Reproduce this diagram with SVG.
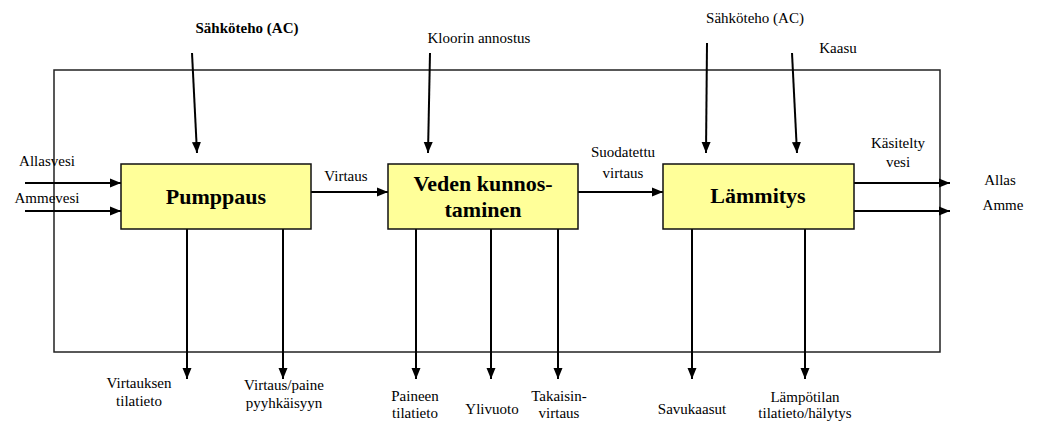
<svg xmlns="http://www.w3.org/2000/svg" width="1040" height="425" viewBox="0 0 1040 425">
  <style>
    .lbl { font-size: 15px; }
    .b { font-weight: bold; }
    .title { font-size: 22px; font-weight: bold; }
    .box { fill: #FFFF99; stroke: #111; stroke-width: 1.5; }
    .frame { fill: none; stroke: #222; stroke-width: 1.5; }
    .arr { stroke: #000; stroke-width: 2; fill: none; marker-end: url(#ah); }
  </style>
  <defs>
    <marker id="ah" markerUnits="userSpaceOnUse" markerWidth="12" markerHeight="12" viewBox="0 0 12 12" refX="11" refY="6" orient="auto">
      <path d="M0,1.5 L11,6 L0,10.5 Z" fill="#000"/>
    </marker>
  </defs>

  <rect width="1040" height="425" fill="#fff"/>

  <!-- system boundary -->
  <rect class="frame" x="54" y="70" width="886" height="282"/>

  <g id="connectors">
    <!-- controls from above -->
    <line class="arr" x1="192" y1="53" x2="197" y2="153"/>
    <line class="arr" x1="430" y1="53" x2="428" y2="153"/>
    <line class="arr" x1="707" y1="43" x2="706" y2="153"/>
    <line class="arr" x1="792" y1="53" x2="797" y2="153"/>
    <!-- inputs -->
    <line class="arr" x1="25" y1="183" x2="121" y2="183"/>
    <line class="arr" x1="25" y1="211" x2="121" y2="211"/>
    <!-- flows between stages -->
    <line class="arr" x1="311" y1="192" x2="388" y2="192"/>
    <line class="arr" x1="578" y1="192" x2="663" y2="192"/>
    <!-- outputs -->
    <line class="arr" x1="854" y1="183" x2="950" y2="183"/>
    <line class="arr" x1="854" y1="211" x2="950" y2="211"/>
    <!-- downward outputs -->
    <line class="arr" x1="187" y1="229" x2="187" y2="379"/>
    <line class="arr" x1="283" y1="229" x2="283" y2="379"/>
    <line class="arr" x1="416" y1="229" x2="416" y2="379"/>
    <line class="arr" x1="491" y1="229" x2="491" y2="379"/>
    <line class="arr" x1="558" y1="229" x2="558" y2="379"/>
    <line class="arr" x1="692" y1="229" x2="692" y2="379"/>
    <line class="arr" x1="805" y1="229" x2="805" y2="379"/>
  </g>

  <g font-family="Liberation Serif, DejaVu Serif, serif" fill="#000" text-anchor="middle">
    <g id="pumppaus">
      <rect class="box" x="121" y="164" width="190" height="65"/>
      <text class="title" x="216" y="204">Pumppaus</text>
    </g>

    <g id="veden-kunnostaminen">
      <rect class="box" x="388" y="164" width="190" height="65"/>
      <text class="title" x="483" y="191">Veden kunnos-</text>
      <text class="title" x="483" y="217">taminen</text>
    </g>

    <g id="lammitys">
      <rect class="box" x="663" y="164" width="191" height="65"/>
      <text class="title" x="758" y="203">Lämmitys</text>
    </g>

    <g id="labels">
      <text class="lbl b" x="247" y="33">Sähköteho (AC)</text>
      <text class="lbl" x="479" y="43">Kloorin annostus</text>
      <text class="lbl" x="755" y="23">Sähköteho (AC)</text>
      <text class="lbl" x="838" y="53">Kaasu</text>

      <text class="lbl" x="47" y="166">Allasvesi</text>
      <text class="lbl" x="47" y="203">Ammevesi</text>

      <text class="lbl" x="346" y="181">Virtaus</text>
      <text class="lbl" x="623" y="157">Suodatettu</text>
      <text class="lbl" x="623" y="178">virtaus</text>

      <text class="lbl" x="898" y="148">Käsitelty</text>
      <text class="lbl" x="898" y="167">vesi</text>
      <text class="lbl" x="1000" y="185">Allas</text>
      <text class="lbl" x="1003" y="210">Amme</text>

      <text class="lbl" x="139" y="388">Virtauksen</text>
      <text class="lbl" x="139" y="406">tilatieto</text>
      <text class="lbl" x="284" y="390">Virtaus/paine</text>
      <text class="lbl" x="284" y="408">pyyhkäisyyn</text>

      <text class="lbl" x="415" y="401">Paineen</text>
      <text class="lbl" x="415" y="418">tilatieto</text>
      <text class="lbl" x="492" y="414">Ylivuoto</text>
      <text class="lbl" x="559" y="401">Takaisin-</text>
      <text class="lbl" x="559" y="418">virtaus</text>

      <text class="lbl" x="692" y="414">Savukaasut</text>
      <text class="lbl" x="805" y="402">Lämpötilan</text>
      <text class="lbl" x="805" y="418">tilatieto/hälytys</text>
    </g>
  </g>
</svg>
